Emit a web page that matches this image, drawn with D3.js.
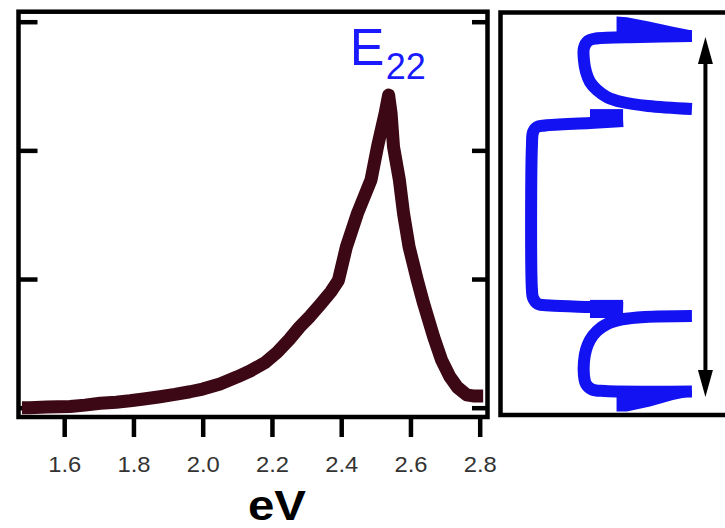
<!DOCTYPE html>
<html><head><meta charset="utf-8">
<script src="https://cdn.jsdelivr.net/npm/d3@7"></script>
<style>html,body{margin:0;padding:0;background:#fff;} svg{display:block;}</style>
</head><body>
<svg id="chart" width="725" height="528"></svg>
<script>
// ---------- data ----------
const energy = [1.478, 1.50, 1.55, 1.617, 1.66, 1.704, 1.75, 1.79, 1.83, 1.877, 1.92, 1.963, 2.00, 2.05, 2.10, 2.137, 2.18, 2.215, 2.25, 2.28, 2.31, 2.339, 2.37, 2.392, 2.415, 2.447, 2.486, 2.505, 2.527, 2.537, 2.544, 2.551, 2.568, 2.58, 2.596, 2.62, 2.638, 2.667, 2.69, 2.714, 2.735, 2.762, 2.785, 2.81];
const intensity = [0.0, 0.0, 0.005, 0.01, 0.02, 0.034, 0.043, 0.054, 0.068, 0.085, 0.103, 0.124, 0.145, 0.184, 0.24, 0.285, 0.35, 0.43, 0.53, 0.627, 0.71, 0.80, 0.90, 0.99, 1.25, 1.51, 1.77, 2.03, 2.29, 2.43, 2.29, 2.03, 1.77, 1.51, 1.25, 0.99, 0.81, 0.55, 0.37, 0.24, 0.16, 0.10, 0.09, 0.09];
const xTicks = [1.6, 1.8, 2.0, 2.2, 2.4, 2.6, 2.8];
const yTicks = [0, 1, 2, 3];
const xLabel = "eV";
const peakMain = "E";
const peakSub = "22";
const peakEnergy = 2.537;

// right panel profile (arbitrary units: u across, v down)
const topCurveU = [85.3, 62.2, 42.7, 39.1, 37.3, 37.3, 38.22, 40.0, 43.11, 47.56, 54.22, 65.78, 85.3];
const topCurveV = [5.84, 6.09, 6.46, 7.08, 8.82, 11.8, 14.78, 17.27, 19.25, 21.0, 22.24, 23.23, 23.98];
const midLineU = [54.7, 40.0, 20.0, 16.4, 14.7, 14.2, 14.2, 14.7, 16.9, 22.2, 40.0, 54.7];
const midLineV = [26.96, 27.45, 28.07, 28.45, 29.69, 32.92, 68.94, 70.93, 72.42, 72.80, 73.17, 73.42];
const bottomCurveU = [85.3, 64.4, 54.2, 47.6, 43.1, 40.0, 38.2, 37.3, 37.3, 38.2, 40.9, 46.7, 85.3];
const bottomCurveV = [75.40, 75.65, 76.27, 77.39, 79.13, 81.37, 83.85, 86.83, 90.06, 92.30, 93.66, 94.04, 94.16];
const hornU = [51.8, 56.4, 66.7, 76.9, 85.3];
const topHornV0 = [0.99, 1.19, 2.29, 3.53, 4.47];
const topHornV1 = [6.2, 6.2, 6.2, 6.2, 6.2];
const bottomHornV0 = [94.0, 94.0, 94.0, 94.0, 94.0];
const bottomHornV1 = [99.1, 99.1, 97.9, 96.3, 95.3];
const stepU = [40.0, 54.7];
const topStepV = [24.0, 28.45];
const bottomStepV = [71.4, 75.9];
const arrowU = 91.3;
const arrowV = [6.1, 95.5];

// ---------- drawing ----------
const svg = d3.select("#chart");
const FONT = "'Liberation Sans', Arial, Helvetica, sans-serif";

// left panel
const L = {x0: 18.5, x1: 487.5, y0: 11.7, y1: 417};
const x = d3.scaleLinear().domain([1.6, 2.8]).range([64.2, 479.7]);
const y = d3.scaleLinear().domain([0, 3]).range([407.7, 21.7]);

const gx = svg.append("g").attr("transform", `translate(0,${L.y1})`)
  .call(d3.axisBottom(x).tickValues(xTicks).tickSize(20).tickFormat(d3.format(".1f")));
gx.select(".domain").remove();
gx.selectAll(".tick line").attr("stroke", "#000").attr("stroke-width", 4.5);
gx.selectAll(".tick text").attr("y", 55).attr("dy", 0)
  .attr("font-family", FONT).attr("font-size", 22).attr("fill", "#333")
  .attr("textLength", 33).attr("lengthAdjust", "spacingAndGlyphs");

const gyl = svg.append("g").attr("transform", `translate(${L.x0},0)`)
  .call(d3.axisRight(y).tickValues(yTicks).tickSize(19).tickFormat(""));
gyl.select(".domain").remove();
gyl.selectAll(".tick line").attr("stroke", "#000").attr("stroke-width", 4.5);

const gyr = svg.append("g").attr("transform", `translate(${L.x1},0)`)
  .call(d3.axisLeft(y).tickValues(yTicks).tickSize(15.5).tickFormat(""));
gyr.select(".domain").remove();
gyr.selectAll(".tick line").attr("stroke", "#000").attr("stroke-width", 4.5);

svg.append("path")
  .datum(d3.zip(energy, intensity))
  .attr("d", d3.line().x(d => x(d[0])).y(d => y(d[1])))
  .attr("fill", "none").attr("stroke", "#3d0816").attr("stroke-width", 13)
  .attr("stroke-linejoin", "round").attr("stroke-linecap", "butt");

svg.append("rect")
  .attr("x", L.x0).attr("y", L.y0).attr("width", L.x1 - L.x0).attr("height", L.y1 - L.y0)
  .attr("fill", "none").attr("stroke", "#000").attr("stroke-width", 4.5);

// peak label
const px = x(peakEnergy);
svg.append("text").attr("x", px - 39).attr("y", 65)
  .attr("font-family", FONT).attr("font-size", 52).attr("fill", "#1a1aff").text(peakMain);
svg.append("text").attr("x", px - 3).attr("y", 79)
  .attr("font-family", FONT).attr("font-size", 36).attr("fill", "#1a1aff").text(peakSub);

// x label
svg.append("text").attr("x", 277).attr("y", 520).attr("text-anchor", "middle")
  .attr("font-family", FONT).attr("font-weight", "bold").attr("font-size", 42)
  .attr("textLength", 58).attr("lengthAdjust", "spacingAndGlyphs")
  .attr("fill", "#000").text(xLabel);

// right panel
const u = d3.scaleLinear().domain([0, 100]).range([500, 725]);
const v = d3.scaleLinear().domain([0, 100]).range([12.5, 415]);

svg.append("rect")
  .attr("x", u(0) + 0.5).attr("y", v(0)).attr("width", 260).attr("height", v(100) - v(0))
  .attr("fill", "none").attr("stroke", "#000").attr("stroke-width", 4.5);

const BLUE = "#1212f2";
const pline = d3.line().x(d => u(d[0])).y(d => v(d[1])).curve(d3.curveCatmullRom.alpha(0.5));
[[topCurveU, topCurveV], [midLineU, midLineV], [bottomCurveU, bottomCurveV]].forEach(([us, vs]) => {
  svg.append("path").datum(d3.zip(us, vs)).attr("d", pline)
    .attr("fill", "none").attr("stroke", BLUE).attr("stroke-width", 12)
    .attr("stroke-linejoin", "round").attr("stroke-linecap", "butt");
});
const harea = d3.area().x(d => u(d[0])).y0(d => v(d[1])).y1(d => v(d[2]));
[[hornU, topHornV0, topHornV1], [hornU, bottomHornV0, bottomHornV1]].forEach(([us, a, b]) => {
  svg.append("path").datum(d3.zip(us, a, b)).attr("d", harea).attr("fill", BLUE);
});
[topStepV, bottomStepV].forEach(sv => {
  svg.append("rect").attr("x", u(stepU[0])).attr("width", u(stepU[1]) - u(stepU[0]))
    .attr("y", v(sv[0])).attr("height", v(sv[1]) - v(sv[0])).attr("fill", BLUE);
});

// double arrow
const ax = u(arrowU), ay0 = v(arrowV[0]), ay1 = v(arrowV[1]);
const headLen = 27, headHalf = 7.5;
svg.append("line").attr("x1", ax).attr("x2", ax).attr("y1", ay0 + headLen - 2).attr("y2", ay1 - headLen + 2)
  .attr("stroke", "#000").attr("stroke-width", 4);
svg.append("path").attr("d", `M${ax},${ay0} L${ax + headHalf},${ay0 + headLen} L${ax - headHalf},${ay0 + headLen} Z`).attr("fill", "#000");
svg.append("path").attr("d", `M${ax},${ay1} L${ax + headHalf},${ay1 - headLen} L${ax - headHalf},${ay1 - headLen} Z`).attr("fill", "#000");
</script>
</body></html>
